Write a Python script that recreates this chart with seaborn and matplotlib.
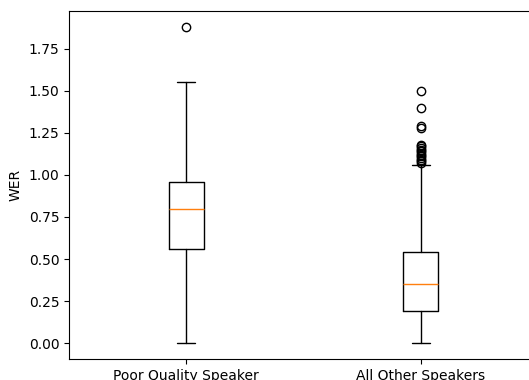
import matplotlib

matplotlib.use("Agg")
import matplotlib.pyplot as plt
import seaborn as sns

# box statistics
groups = ["Poor Quality Speaker", "All Other Speakers"]
medians = [0.80, 0.35]
q1 = [0.56, 0.19]
q3 = [0.96, 0.54]
whisker_low = [0.00, 0.00]
whisker_high = [1.55, 1.06]
outliers_poor = [1.88]
outliers_other = [1.07, 1.08, 1.09, 1.10, 1.11, 1.12, 1.13, 1.14, 1.15,
                  1.16, 1.17, 1.18, 1.28, 1.29, 1.40, 1.50]

sns.set_style("ticks", {
    "axes.edgecolor": "black",
    "axes.labelcolor": "black",
    "text.color": "black",
    "xtick.color": "black",
    "ytick.color": "black",
})
plt.rcParams["font.family"] = ["DejaVu Sans"]
plt.rcParams["font.size"] = 10

fliers = [outliers_poor, outliers_other]
stats = []
for i, name in enumerate(groups):
    stats.append({
        "label": name,
        "med": medians[i],
        "q1": q1[i],
        "q3": q3[i],
        "whislo": whisker_low[i],
        "whishi": whisker_high[i],
        "fliers": fliers[i],
    })

fig = plt.figure(figsize=(5.29, 3.80), dpi=100)
ax = fig.add_axes([69 / 529, 21 / 380, 469 / 529, 348 / 380])

ax.bxp(
    stats,
    widths=0.15,
    boxprops={"color": "black", "linewidth": 1.0},
    whiskerprops={"color": "black", "linewidth": 1.0},
    capprops={"color": "black", "linewidth": 1.0},
    medianprops={"color": "#ff7f0e", "linewidth": 1.0},
    flierprops={"marker": "o", "markerfacecolor": "none",
                "markeredgecolor": "black", "markersize": 6},
)
ax.set_ylabel("WER")
ax.tick_params(axis="both", labelsize=10)

fig.savefig("out.png", dpi=100)
